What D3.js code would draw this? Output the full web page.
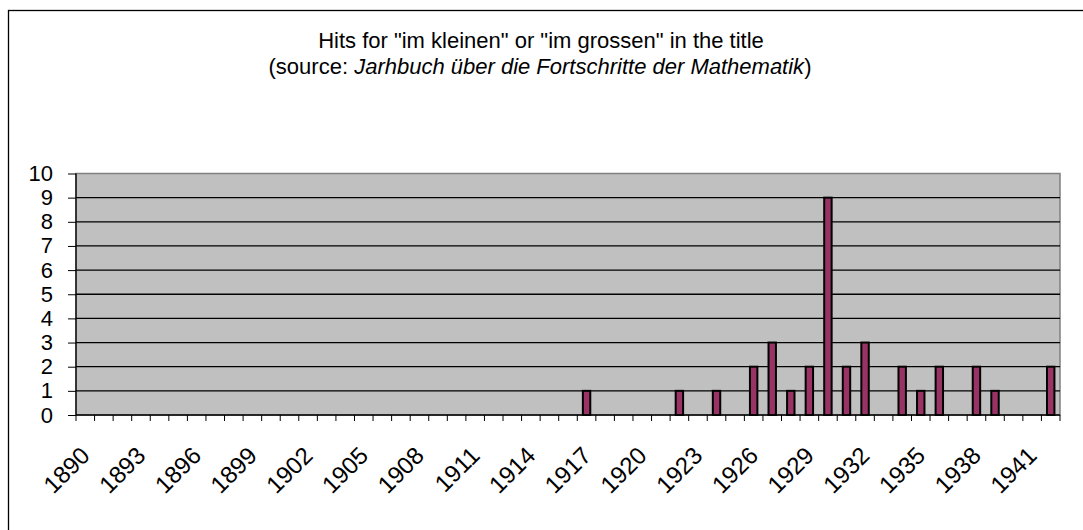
<!DOCTYPE html>
<meta charset="utf-8">
<style>
body { margin: 0; background: #fff; }
svg { font-family: "Liberation Sans", Arial, sans-serif; }
.domain { display: none; }
</style>
<body>
<div id="chart"></div>
<script src="https://d3js.org/d3.v7.min.js"></script>
<script>
// years shown on the axis (one category per year)
var years = d3.range(1890, 1943);
// years that had hits, and how many
var hitYears = [1917, 1922, 1924, 1926, 1927, 1928, 1929, 1930, 1931, 1932, 1934, 1935, 1936, 1938, 1939, 1942];
var hitCounts = [1, 1, 1, 2, 3, 1, 2, 9, 2, 3, 2, 1, 2, 2, 1, 2];
var yTicks = [0, 1, 2, 3, 4, 5, 6, 7, 8, 9, 10];
var titleLine1 = 'Hits for "im kleinen" or "im grossen" in the title';

var W = 1083, H = 530;
var margin = {top: 173.5, right: 23, bottom: 115, left: 76};
var width = W - margin.left - margin.right,
    height = H - margin.top - margin.bottom;

var data = years.map(function(y) {
  var i = hitYears.indexOf(y);
  return {year: y, value: i < 0 ? 0 : hitCounts[i]};
});

var svg = d3.select("#chart").append("svg")
    .attr("width", W)
    .attr("height", H);

// outer chart frame (runs past the right and bottom edge)
svg.append("rect")
    .attr("x", 8.5).attr("y", 10.5)
    .attr("width", W + 20).attr("height", H + 20)
    .attr("fill", "none").attr("stroke", "#000").attr("stroke-width", 1.3);

// title
var title = svg.append("text")
    .attr("text-anchor", "middle")
    .attr("font-size", 22)
    .attr("fill", "#000");
title.append("tspan").attr("x", 541).attr("y", 48).text(titleLine1);
var t2 = title.append("tspan").attr("x", 540).attr("y", 74);
t2.append("tspan").text("(source: ");
t2.append("tspan").attr("font-style", "italic").text("Jarhbuch über die Fortschritte der Mathematik");
t2.append("tspan").text(")");

var g = svg.append("g")
    .attr("transform", "translate(" + margin.left + "," + margin.top + ")");

var x = d3.scaleBand()
    .domain(years)
    .range([0, width])
    .paddingInner(0.6)
    .paddingOuter(0.3)
    .align(0.5);

var xCat = d3.scaleBand().domain(years).range([0, width]);

var y = d3.scaleLinear()
    .domain([0, 10])
    .range([height, 0]);

// plot background
g.append("rect")
    .attr("width", width).attr("height", height)
    .attr("fill", "#c0c0c0")
    .attr("stroke", "#808080").attr("stroke-width", 1.5);

// gridlines
g.append("g")
    .selectAll("line")
    .data(yTicks.slice(1, -1))
    .join("line")
    .attr("x1", 0).attr("x2", width)
    .attr("y1", function(d) { return y(d); })
    .attr("y2", function(d) { return y(d); })
    .attr("stroke", "#000").attr("stroke-width", 1.3);

// y axis
var yAxis = g.append("g")
    .call(d3.axisLeft(y).tickValues(yTicks).tickSize(8).tickPadding(15));
yAxis.selectAll(".tick line").attr("stroke", "#000");
yAxis.selectAll("text").attr("font-size", 22).attr("fill", "#000")
    .attr("font-family", "Liberation Sans, Arial, sans-serif");
g.append("line")
    .attr("x1", 0).attr("x2", 0).attr("y1", 0).attr("y2", height)
    .attr("stroke", "#000").attr("stroke-width", 1.3);

// x tick marks at category boundaries
g.append("g")
    .selectAll("line")
    .data(years.concat([years[years.length - 1] + 1]))
    .join("line")
    .attr("x1", function(d, i) { return i * xCat.step(); })
    .attr("x2", function(d, i) { return i * xCat.step(); })
    .attr("y1", height).attr("y2", height + 6)
    .attr("stroke", "#000");
g.append("line")
    .attr("x1", 0).attr("x2", width).attr("y1", height).attr("y2", height)
    .attr("stroke", "#000").attr("stroke-width", 1.3);

// x labels every 3 years
g.append("g")
    .selectAll("text")
    .data(years.filter(function(d) { return (d - 1890) % 3 === 0; }))
    .join("text")
    .attr("text-anchor", "end")
    .attr("font-size", 24)
    .attr("fill", "#000")
    .attr("transform", function(d) {
      return "translate(" + (xCat(d) + xCat.bandwidth() / 2 + 6) + "," + (height + 42) + ") rotate(-45)";
    })
    .text(function(d) { return d; });

// bars
g.append("g")
    .selectAll("rect")
    .data(data.filter(function(d) { return d.value > 0; }))
    .join("rect")
    .attr("x", function(d) { return x(d.year); })
    .attr("y", function(d) { return y(d.value); })
    .attr("width", x.bandwidth())
    .attr("height", function(d) { return height - y(d.value); })
    .attr("fill", "#993366")
    .attr("stroke", "#000")
    .attr("stroke-width", 2);
</script>
</body>
